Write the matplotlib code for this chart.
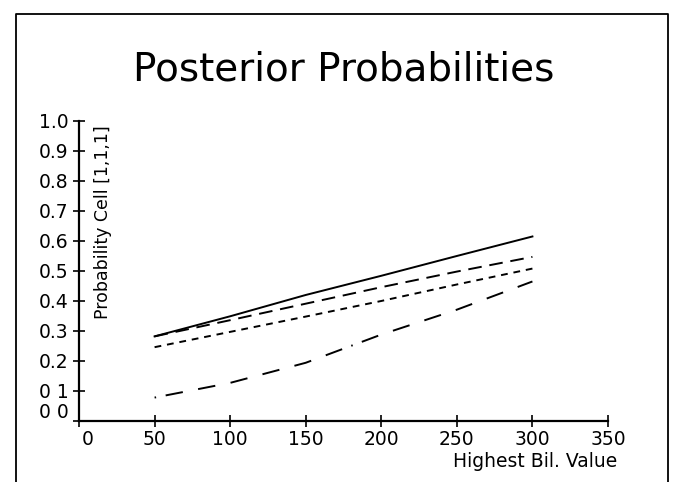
import matplotlib
matplotlib.use("Agg")
import matplotlib.pyplot as plt
import matplotlib.transforms as mtransforms
from matplotlib.lines import Line2D

# data
bil_values = [50, 100, 150, 200, 250, 300]
prob_solid = [0.282, 0.349, 0.420, 0.484, 0.550, 0.615]
prob_longdash = [0.282, 0.336, 0.391, 0.446, 0.498, 0.547]
prob_shortdash = [0.246, 0.297, 0.348, 0.400, 0.455, 0.508]
prob_dashdot = [0.078, 0.127, 0.194, 0.288, 0.371, 0.465]

x_ticks = [0, 50, 100, 150, 200, 250, 300, 350]
y_ticks = [0.0, 0.1, 0.2, 0.3, 0.4, 0.5, 0.6, 0.7, 0.8, 0.9, 1.0]
y_ticklabels = ['0 0', '0 1', '0.2', '0.3', '0.4', '0.5', '0.6', '0.7', '0.8', '0.9', '1.0']

plt.rcParams['font.family'] = 'DejaVu Sans'

fig = plt.figure(figsize=(6.73, 4.82), dpi=100)
ax = fig.add_axes([0.1174, 0.1266, 0.786, 0.6224])

ax.plot(bil_values, prob_solid, color='k', lw=1.4, linestyle='-')
ax.plot(bil_values, prob_longdash, color='k', lw=1.4, linestyle=(0, (7, 4)))
ax.plot(bil_values, prob_shortdash, color='k', lw=1.4, linestyle=(0, (3.5, 3)))
ax.plot(bil_values, prob_dashdot, color='k', lw=1.4,
        linestyle=(0, (0.8, 5, 9, 8, 9, 8, 9, 8, 9, 8, 9, 8, 9, 5)))

ax.set_xlim(0, 350)
ax.set_ylim(0, 1.0)
ax.set_xticks(x_ticks)
ax.set_yticks(y_ticks)
ax.set_yticklabels(y_ticklabels)
for s in ['top', 'right']:
    ax.spines[s].set_visible(False)
for s in ['left', 'bottom']:
    ax.spines[s].set_linewidth(1.6)
ax.tick_params(direction='inout', length=9, width=1.2, labelsize=13.5, pad=3)
ax.tick_params(axis='x', pad=2)

# the 0.0 label sits a little above its tick, the x "0" a bit to the right
lab0 = ax.get_yticklabels()[0]
lab0.set_transform(lab0.get_transform() + mtransforms.ScaledTranslation(0, 10/100, fig.dpi_scale_trans))
xlab0 = ax.get_xticklabels()[0]
xlab0.set_transform(xlab0.get_transform() + mtransforms.ScaledTranslation(9/100, 0, fig.dpi_scale_trans))

ax.text(0.046, 0.985, 'Probability Cell [1,1,1]', rotation=90, va='top', ha='center',
        fontsize=12.5, transform=ax.transAxes)
fig.text(0.917, 0.043, 'Highest Bil. Value', ha='right', va='center', fontsize=13.5)
fig.text(0.51, 0.855, 'Posterior Probabilities', ha='center', va='center', fontsize=28)

# frame around the page
fig.add_artist(Line2D([0.024, 0.024, 0.992, 0.992], [0.0, 0.971, 0.971, 0.0],
                      transform=fig.transFigure, color='k', lw=1.3))

fig.savefig('out.png', dpi=100)
